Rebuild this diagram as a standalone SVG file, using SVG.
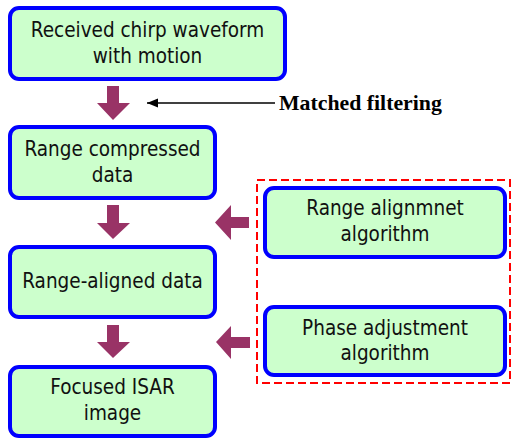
<svg xmlns="http://www.w3.org/2000/svg" width="512" height="438" viewBox="0 0 512 438">
<style>
.node rect{fill:#CCFFCC;stroke:#0000FF;stroke-width:4}
.node text{font-family:"DejaVu Sans Condensed","DejaVu Sans",Verdana,sans-serif;font-stretch:condensed;font-size:20.5px;fill:#111;text-anchor:middle}
.big{fill:#993366}
.lbl{font-family:"Liberation Serif","Times New Roman",serif;font-weight:bold;font-size:21.8px;fill:#000}
</style>
<defs>
<marker id="ah" markerWidth="12" markerHeight="10" refX="11" refY="5" orient="auto" markerUnits="userSpaceOnUse">
<path d="M0,0.5 L11,5 L0,9.5 Z" fill="#000"/>
</marker>
</defs>
<rect x="257" y="180" width="253" height="203" fill="none" stroke="#FF0000" stroke-width="2" stroke-dasharray="8 4"/>
<g id="connectors">
<path class="big" d="M107,86 H119 V103 H130 L113,120 L97,103 H107 Z"/>
<path class="big" d="M107,205 H119 V223 H130 L113,239 L97,223 H107 Z"/>
<path class="big" d="M107,325 H119 V342 H130 L113,358 L97,342 H107 Z"/>
<path class="big" d="M249,217 V228 H231 V240 L215,222.5 L231,205 V217 Z"/>
<path class="big" d="M250,337 V348 H231 V359 L216,342 L231,326 V337 Z"/>
<line x1="275" y1="103" x2="147" y2="103" stroke="#000" stroke-width="1.5" marker-end="url(#ah)"/>
<text class="lbl" x="279" y="110">Matched filtering</text>
</g>
<g id="n1" class="node"><rect x="10" y="8" width="275" height="71" rx="9"/><text x="147.5" y="37">Received chirp waveform</text><text x="147.5" y="63">with motion</text></g>
<g id="n2" class="node"><rect x="10" y="127" width="205" height="71" rx="9"/><text x="112.5" y="156">Range compressed</text><text x="112.5" y="182">data</text></g>
<g id="n3" class="node"><rect x="10" y="247" width="205" height="70" rx="9"/><text x="112.5" y="288">Range-aligned data</text></g>
<g id="n4" class="node"><rect x="10" y="367" width="205" height="69" rx="9"/><text x="112.5" y="394">Focused ISAR</text><text x="112.5" y="420">image</text></g>
<g id="n5" class="node"><rect x="265" y="188" width="240" height="69" rx="9"/><text x="385" y="215">Range alignmnet</text><text x="385" y="241">algorithm</text></g>
<g id="n6" class="node"><rect x="265" y="307" width="240" height="68" rx="9"/><text x="385" y="335">Phase adjustment</text><text x="385" y="360">algorithm</text></g>
</svg>
